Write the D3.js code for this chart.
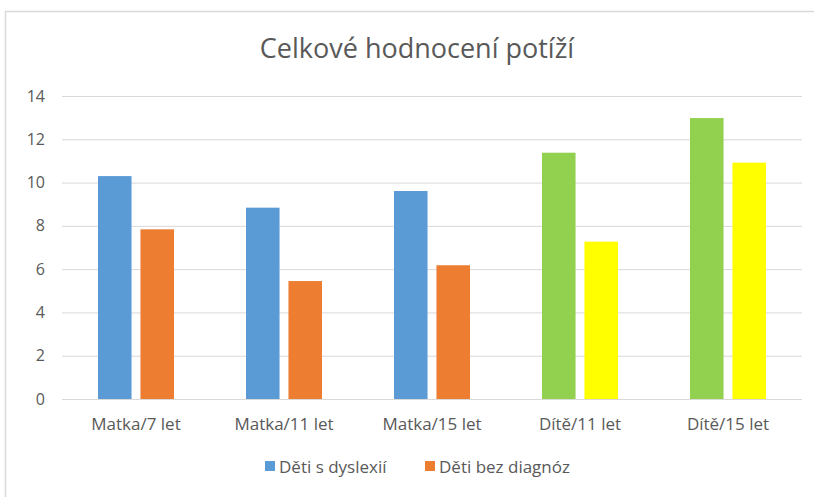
<!DOCTYPE html>
<html>
<head>
<meta charset="utf-8">
<style> body { margin: 0; background: #fff; } text { font-family: "Open Sans", sans-serif; } </style>
<script src="https://d3js.org/d3.v7.min.js"></script>
</head>
<body>
<div id="chart"></div>
<script>
const categories = ["Matka/7 let", "Matka/11 let", "Matka/15 let", "Dítě/11 let", "Dítě/15 let"];
const seriesNames = ["Děti s dyslexií", "Děti bez diagnóz"];
const dyslexie = [10.3, 8.84, 9.61, 11.38, 12.98];
const bezDiagnoz = [7.84, 5.45, 6.18, 7.27, 10.92];
const yTicks = [0, 2, 4, 6, 8, 10, 12, 14];

const width = 814, height = 497;
const plotLeft = 62, plotRight = 802, plotTop = 96, plotBottom = 399;

// Matka bars blue/orange, Dítě bars green/yellow
const palette = {
  "Matka": ["#5b9bd5", "#ed7d31"],
  "Dítě": ["#92d050", "#ffff00"]
};

const svg = d3.select("#chart").append("svg")
  .attr("width", width).attr("height", height);

svg.append("rect")
  .attr("x", 5.5).attr("y", 11.5)
  .attr("width", 840).attr("height", 520)
  .attr("fill", "#fff").attr("stroke", "#d9d9d9").attr("stroke-width", 1.5);

svg.append("text")
  .attr("x", 417).attr("y", 58)
  .attr("text-anchor", "middle")
  .attr("fill", "#595959")
  .attr("font-size", 27)
  .text("Celkové hodnocení potíží");

const y = d3.scaleLinear().domain([0, 14]).range([plotBottom, plotTop]);
const x = d3.scaleBand().domain(categories).range([plotLeft, plotRight]);
const xi = d3.scaleBand().domain([0, 1])
  .range([36, x.bandwidth() - 36]).paddingInner(0.21);

const yAxis = svg.append("g")
  .attr("transform", `translate(${plotLeft},0)`)
  .call(d3.axisLeft(y).tickValues(yTicks).tickSize(-(plotRight - plotLeft)).tickPadding(17));
yAxis.select(".domain").remove();
yAxis.selectAll("line").attr("stroke", "#d9d9d9");
yAxis.selectAll("text").attr("fill", "#595959").attr("font-size", 16)
  .style("font-family", "Open Sans, sans-serif");

const rows = categories.map((c, i) => ({ cat: c, vals: [dyslexie[i], bezDiagnoz[i]], key: c.split("/")[0] }));

const g = svg.append("g").selectAll("g").data(rows).join("g")
  .attr("transform", d => `translate(${x(d.cat)},0)`);

g.selectAll("rect").data(d => d.vals.map((v, j) => ({ v, j, key: d.key })))
  .join("rect")
  .attr("x", d => xi(d.j))
  .attr("width", xi.bandwidth())
  .attr("y", d => y(d.v))
  .attr("height", d => y(0) - y(d.v))
  .attr("fill", d => palette[d.key][d.j]);

const xAxis = svg.append("g")
  .attr("transform", `translate(0,${plotBottom})`)
  .call(d3.axisBottom(x).tickSize(0).tickPadding(19));
xAxis.select(".domain").remove();
xAxis.selectAll("text").attr("fill", "#595959").attr("font-size", 17)
  .style("font-family", "Open Sans, sans-serif");

// legend
const legend = svg.append("g").attr("transform", "translate(0,467)");
const legendX = [265, 425];
seriesNames.forEach((name, i) => {
  legend.append("rect")
    .attr("x", legendX[i]).attr("y", -6)
    .attr("width", 10).attr("height", 10)
    .attr("fill", palette["Matka"][i]);
  legend.append("text")
    .attr("x", legendX[i] + 14).attr("y", 5.5)
    .attr("fill", "#595959").attr("font-size", 17)
    .text(name);
});
</script>
</body>
</html>
